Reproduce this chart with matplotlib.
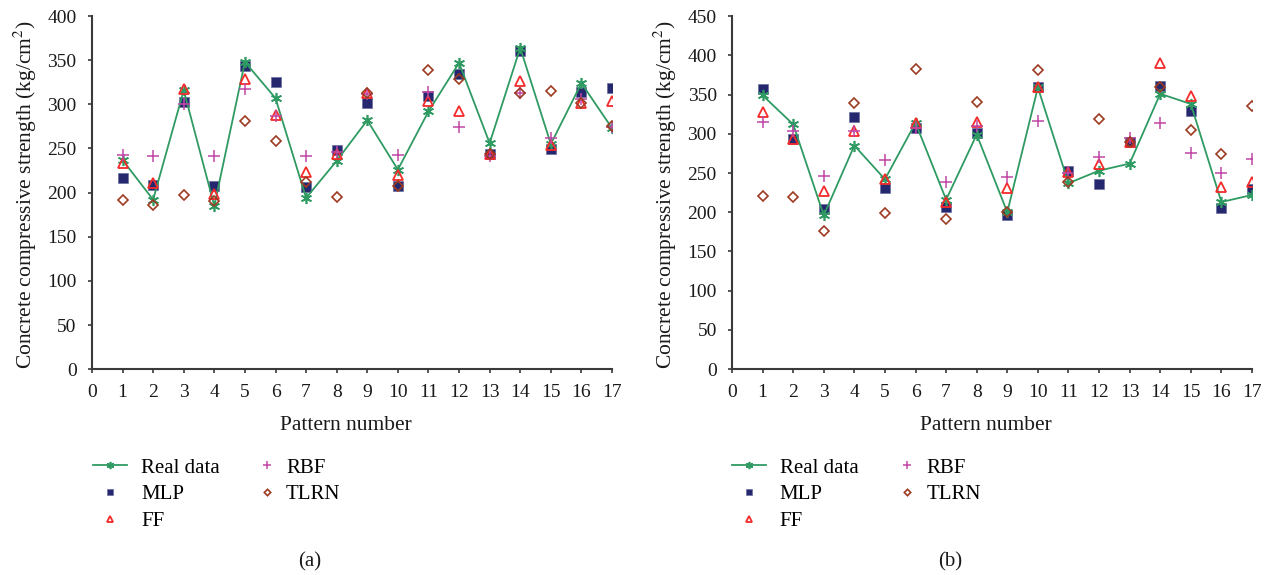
import matplotlib.pyplot as plt
import numpy as np

plt.rcParams['font.family'] = ['Liberation Serif', 'DejaVu Serif']
plt.rcParams['mathtext.fontset'] = 'stix'

patterns = np.arange(1, 18)

# (a)
real_a = [237, 192, 316, 185, 348, 307, 194, 236, 282, 226, 292, 347, 256, 364, 255, 324, 273]
mlp_a = [217, 209, 303, 208, 343, 325, 206, 248, 301, 207, 309, 334, 244, 360, 249, 314, 318]
ff_a = [233, 211, 317, 199, 329, 288, 223, 244, 313, 220, 304, 293, 244, 327, 254, 302, 304]
rbf_a = [243, 242, 300, 241, 317, 287, 241, 246, 312, 243, 314, 274, 241, 313, 262, 306, 274]
tlrn_a = [192, 186, 197, 190, 281, 258, 212, 195, 313, 208, 339, 329, 244, 313, 315, 302, 275]

# (b)
real_b = [349, 312, 196, 285, 242, 314, 216, 299, 200, 359, 237, 253, 262, 351, 338, 213, 222]
mlp_b = [357, 293, 204, 321, 231, 307, 207, 301, 197, 359, 252, 236, 290, 361, 329, 205, 229]
ff_b = [328, 293, 227, 304, 242, 314, 213, 315, 231, 360, 251, 261, 290, 390, 348, 232, 239]
rbf_b = [315, 303, 246, 304, 266, 307, 238, 310, 245, 316, 250, 270, 295, 314, 276, 250, 268]
tlrn_b = [221, 219, 176, 339, 199, 382, 191, 341, 200, 381, 239, 319, 290, 360, 305, 274, 336]

c_real = '#2f9a62'
c_mlp = '#25286e'
c_ff = '#f52a2a'
c_rbf = '#c047a6'
c_tlrn = '#9c3b22'
spine = '#3a3a3a'
txt = '#1a1a1a'

fig = plt.figure(figsize=(12.7, 5.75), dpi=100)


def draw(ax, real, mlp, ff, rbf, tlrn, ymax, leg_x, leg2_x, tag, tag_x):
    h1, = ax.plot(patterns, real, color=c_real, lw=1.3, marker=(6, 2, 0), ms=8,
                  mew=1.2, label='Real data', zorder=3)
    h2, = ax.plot(patterns, mlp, ls='none', marker='s', ms=7, color=c_mlp,
                  mec='#6b6e9e', mew=0.5, label='MLP', zorder=2)
    h3, = ax.plot(patterns, ff, ls='none', marker='^', ms=7, mfc='none',
                  mec=c_ff, mew=1.3, label='FF', zorder=4)
    h4, = ax.plot(patterns, rbf, ls='none', marker='+', ms=8, color=c_rbf,
                  mew=1.1, label='RBF', zorder=4)
    h5, = ax.plot(patterns, tlrn, ls='none', marker='D', ms=5, mfc='none',
                  mec=c_tlrn, mew=1.2, label='TLRN', zorder=4)
    ax.set_xlim(0, 17)
    ax.set_ylim(0, ymax)
    ax.set_xticks(range(0, 18))
    ax.set_yticks(range(0, ymax + 1, 50))
    for s in ['top', 'right']:
        ax.spines[s].set_visible(False)
    for s in ['left', 'bottom']:
        ax.spines[s].set_color(spine)
        ax.spines[s].set_linewidth(1.5)
    ax.tick_params(direction='out', length=3, width=1.2, colors=spine,
                   labelcolor=txt, labelsize=14)
    ax.tick_params(axis='y', pad=8)
    ax.tick_params(axis='x', pad=8)
    ax.set_xlabel('Pattern number', fontsize=15.5, color=txt, va='top')
    ax.xaxis.set_label_coords(0.489, -0.132)
    ax.set_ylabel('Concrete compressive strength (kg/cm$^2$)', fontsize=15.5,
                  color=txt)
    ax.yaxis.set_label_coords(-0.102, 0.495)

    common = dict(loc='upper left', bbox_transform=fig.transFigure,
                  frameon=False, fontsize=15, labelspacing=0.34,
                  markerscale=0.65, borderpad=0, borderaxespad=0)
    leg1 = ax.legend([h1, h2, h3], ['Real data', 'MLP', 'FF'],
                     bbox_to_anchor=(leg_x, 0.2035), handlelength=1.63,
                     handletextpad=0.67, **common)
    ax.add_artist(leg1)
    ax.legend([h4, h5], ['RBF', 'TLRN'], bbox_to_anchor=(leg2_x, 0.2035),
              handlelength=1.0, handletextpad=0.41, **common)
    fig.text(tag_x, 0.022, tag, fontsize=15, ha='center', va='center',
             color=txt)


ax1 = fig.add_axes([0.0724, 0.358, 0.4095, 0.614])
draw(ax1, real_a, mlp_a, ff_a, rbf_a, tlrn_a, 400, 0.0732, 0.2020, '(a)', 0.244)

ax2 = fig.add_axes([0.5764, 0.358, 0.4094, 0.614])
draw(ax2, real_b, mlp_b, ff_b, rbf_b, tlrn_b, 450, 0.5761, 0.7062, '(b)', 0.748)

fig.savefig('out.png', dpi=100)
